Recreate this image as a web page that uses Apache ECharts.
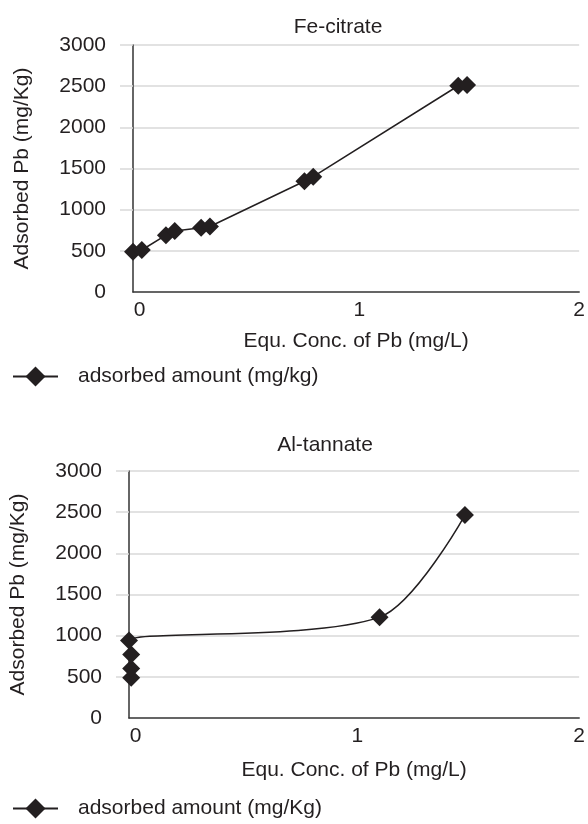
<!DOCTYPE html>
<html><head><meta charset="utf-8">
<script src="https://cdn.jsdelivr.net/npm/echarts@6/dist/echarts.min.js"></script>
<style>html,body{margin:0;padding:0;background:#fff}#c{width:588px;height:824px}</style>
</head><body><div id="c"></div>
<script>
// ---- data ----
const feX = [-0.03, 0.01, 0.12, 0.16, 0.28, 0.32, 0.75, 0.79, 1.45, 1.49];
const feY = [490, 510, 690, 740, 780, 795, 1345, 1400, 2505, 2515];
const alX = [-0.02, -0.02, -0.02, -0.03, 1.10, 1.485];
const alY = [488, 600, 770, 940, 1225, 2465];
const xTicks = [0, 1, 2];
const yTicks = [0, 500, 1000, 1500, 2000, 2500, 3000];
const titles = ['Fe-citrate', 'Al-tannate'];
const seriesNames = ['adsorbed amount (mg/kg)', 'adsorbed amount (mg/Kg)'];
const xName = 'Equ. Conc. of Pb (mg/L)';
const yName = 'Adsorbed Pb (mg/Kg)';

const FONT = 'Liberation Sans, Arial, sans-serif';
const TXT = '#231f20';
const FS = 21;

const chart = echarts.init(document.getElementById('c'), null, {renderer: 'canvas'});

function xAxisCfg(gi, gap) {
  return {
    type: 'value', gridIndex: gi, min: -0.03, max: 2,
    name: xName, nameLocation: 'middle', nameGap: gap,
    nameTextStyle: {color: TXT, fontSize: FS, fontFamily: FONT},
    axisLine: {show: true, onZero: false, lineStyle: {color: '#333', width: 1.5}},
    axisTick: {show: false},
    splitLine: {show: false},
    axisLabel: {customValues: xTicks, color: TXT, fontSize: FS, fontFamily: FONT, margin: 8}
  };
}
function yAxisCfg(gi) {
  return {
    type: 'value', gridIndex: gi, min: yTicks[0], max: yTicks[yTicks.length - 1], interval: 500,
    name: yName, nameLocation: 'middle', nameGap: 100,
    nameTextStyle: {color: TXT, fontSize: FS, fontFamily: FONT},
    axisLine: {show: true, onZero: false, lineStyle: {color: '#333', width: 1.5}},
    axisTick: {show: true, length: 13, customValues: yTicks.slice(1), lineStyle: {color: '#d9d9d9', width: 1.5}},
    splitLine: {show: true, lineStyle: {color: '#d9d9d9', width: 1.5}},
    axisLabel: {color: TXT, fontSize: FS, fontFamily: FONT, margin: 27, formatter: v => String(v)}
  };
}

const legendBase = {
  orient: 'horizontal', left: 12, padding: 0, itemWidth: 45, itemHeight: 25,
  textStyle: {color: TXT, fontSize: FS, fontFamily: FONT, padding: [0, 0, 0, 15]}
};

const option = {
  animation: false,
  backgroundColor: '#fff',
  title: [
    {text: titles[0], left: 333, top: 12, textAlign: 'center', textStyle: {color: TXT, fontSize: FS, fontWeight: 'normal', fontFamily: FONT}},
    {text: titles[1], left: 320, top: 430, textAlign: 'center', textStyle: {color: TXT, fontSize: FS, fontWeight: 'normal', fontFamily: FONT}}
  ],
  grid: [
    {left: 133, top: 45, width: 452, height: 247},
    {left: 127, top: 471, width: 453, height: 247}
  ],
  xAxis: [xAxisCfg(0, 39), xAxisCfg(1, 42)],
  yAxis: [yAxisCfg(0), yAxisCfg(1)],
  legend: [
    Object.assign({}, legendBase, {top: 366, data: [seriesNames[0]]}),
    Object.assign({}, legendBase, {top: 798, data: [seriesNames[1]]})
  ],
  series: [
    {
      name: seriesNames[0], type: 'line', xAxisIndex: 0, yAxisIndex: 0, clip: false,
      data: feX.map((x, i) => [x, feY[i]]),
      symbol: 'diamond', symbolSize: 18,
      itemStyle: {color: TXT},
      lineStyle: {color: TXT, width: 1.5}
    },
    {
      name: seriesNames[1], type: 'line', xAxisIndex: 1, yAxisIndex: 1, clip: false,
      data: alX.map((x, i) => [x, alY[i]]),
      smooth: 0.3,
      symbol: 'diamond', symbolSize: 18,
      itemStyle: {color: TXT},
      lineStyle: {color: TXT, width: 1.5}
    }
  ]
};
chart.setOption(option);
</script>
</body></html>
